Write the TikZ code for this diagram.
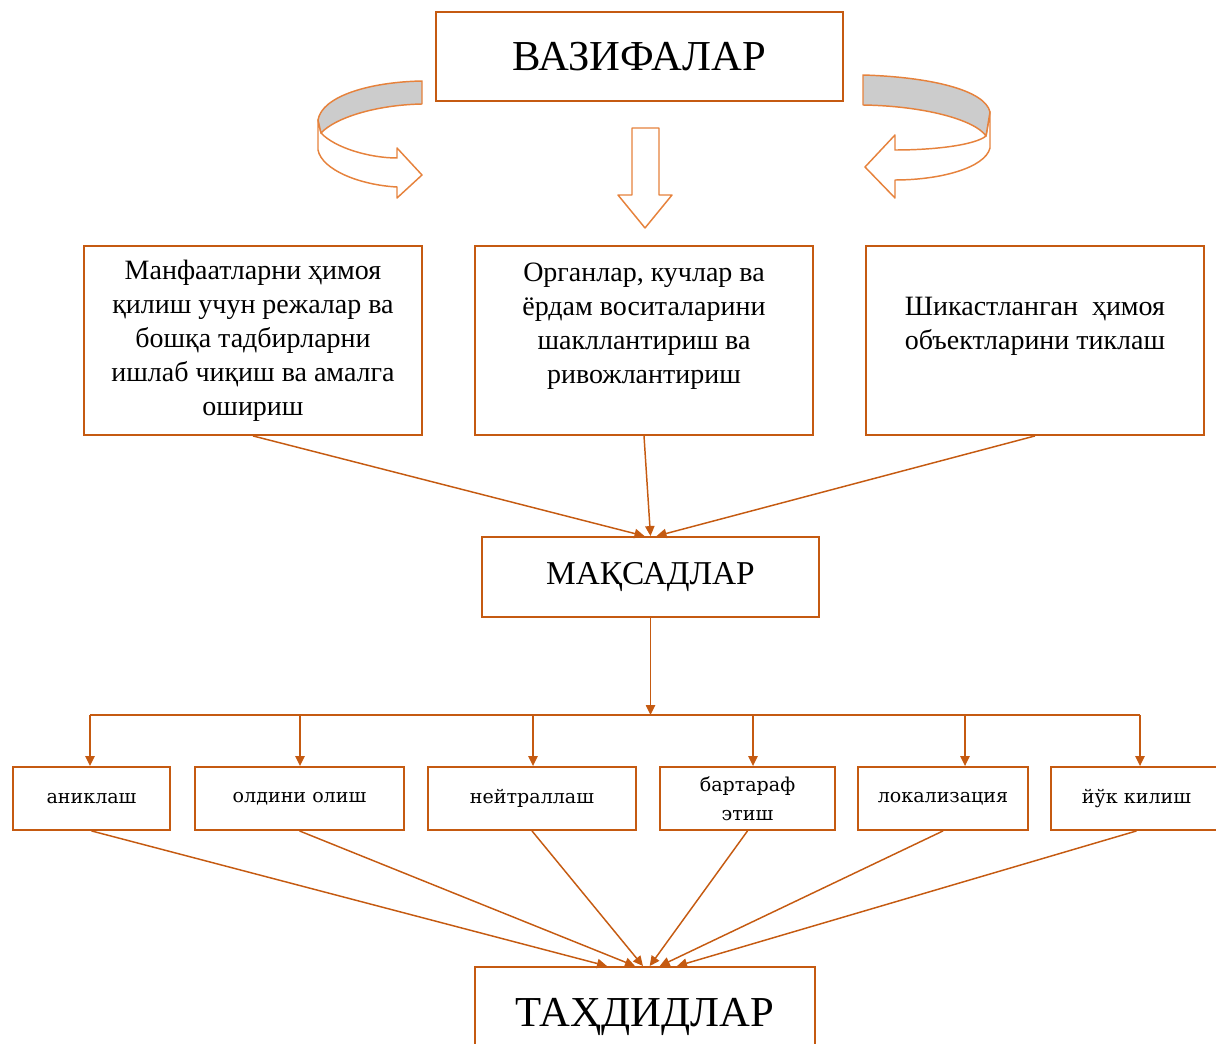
\documentclass[tikz,border=0pt]{standalone}
\usepackage{fontspec}
\setmainfont{Liberation Serif}
\newfontfamily\rowfont{DejaVu Serif}
\usetikzlibrary{arrows.meta}
\definecolor{boxline}{RGB}{197,90,17}
\definecolor{hollowline}{RGB}{230,130,60}
\definecolor{ribbongray}{RGB}{204,204,204}

\begin{document}
\begin{tikzpicture}[x=0.75pt,y=-0.75pt,
    box/.style={draw=boxline,line width=1.4pt,inner sep=0pt,align=center},
    topbox/.style={box,minimum width=253.5pt,minimum height=141.75pt,font=\fontsize{21}{25.5}\selectfont},
    rowbox/.style={box,minimum height=47.25pt,font=\rowfont\fontsize{14.3}{21.75}\selectfont},
    arr/.style={draw=boxline,line width=1.1pt,-{Triangle[length=7.5pt,width=7pt]}},
    hollow/.style={draw=hollowline,line width=1.1pt,line join=round,fill=white}]
  \useasboundingbox (0,0) rectangle (1216,1044);

  % headline
  \node[box,minimum width=305.25pt,minimum height=66.75pt,font=\fontsize{32}{36}\selectfont] (vazifa) at (639.5,56.5) {ВАЗИФАЛАР};

  % three tasks
  \node[topbox] (manfaat) at (253,340.5) {Манфаатларни ҳимоя\\қилиш учун режалар ва\\бошқа тадбирларни\\ишлаб чиқиш ва амалга\\ошириш};
  \node[topbox] (organ) at (644,340.5) {Органлар, кучлар ва\\ёрдам воситаларини\\шакллантириш ва\\ривожлантириш\\~};
  \node[topbox] (tiklash) at (1035,340.5) {Шикастланган\ \ ҳимоя\\объектларини тиклаш\\~};

  \node[box,minimum width=252.75pt,minimum height=60pt,font=\fontsize{25}{28}\selectfont] (maqsad) at (650.5,577) {МАҚСАДЛАР};

  % six measures
  \node[rowbox,minimum width=117.75pt] (aniq) at (91.5,798.5) {аниклаш};
  \node[rowbox,minimum width=156.75pt] (oldini) at (299.5,798.5) {олдини олиш};
  \node[rowbox,minimum width=156pt] (neytral) at (532,798.5) {нейтраллаш};
  \node[rowbox,minimum width=131.25pt] (bartaraf) at (747.5,798.5) {бартараф\\этиш};
  \node[rowbox,minimum width=127.5pt] (lokal) at (943,798.5) {локализация};
  \node[rowbox,minimum width=128.25pt] (yuq) at (1136.5,798.5) {йўк килиш};

  \node[box,minimum width=255pt,minimum height=75pt,font=\fontsize{32}{36}\selectfont] (tahdid) at (645,1017) {ТАҲДИДЛАР};

  % hollow arrows under the headline
  \draw[hollow] (318,120) -- (318,150) .. controls (322,170) and (360,185) .. (397,187)
    -- (397,198) -- (422,175) -- (397,148) -- (397,158) .. controls (370,158) and (335,148) .. (321,133) -- cycle;
  \draw[hollow,fill=ribbongray] (422,81) .. controls (370,82) and (322,96) .. (318,120) -- (321,133)
    .. controls (335,118) and (375,105) .. (422,104) -- cycle;

  \draw[hollow] (632,128) -- (659,128) -- (659,195) -- (672,195) -- (645,228) -- (618,195) -- (632,195) -- cycle;

  \draw[hollow] (990,112) -- (990,148) .. controls (985,168) and (940,180) .. (895,180)
    -- (895,198) -- (865,167) -- (895,135) -- (895,150) .. controls (935,150) and (975,145) .. (986,136) -- cycle;
  \draw[hollow,fill=ribbongray] (863,75) .. controls (930,77) and (985,90) .. (990,112) -- (986,136)
    .. controls (975,120) and (925,106) .. (863,105) -- cycle;

  % connectors
  \draw[arr] (manfaat.south) -- ([xshift=-4.5pt]maqsad.north);
  \draw[arr] (organ.south) -- (maqsad.north);
  \draw[arr] (tiklash.south) -- ([xshift=4.5pt]maqsad.north);

  \coordinate (bus1) at (90,715);
  \coordinate (bus2) at (300,715);
  \coordinate (bus3) at (533,715);
  \coordinate (bus4) at (753,715);
  \coordinate (bus5) at (965,715);
  \coordinate (bus6) at (1140,715);
  \draw[arr] (maqsad.south) -- (maqsad.south |- bus1);
  \draw[draw=boxline,line width=1.1pt] (bus1) -- (bus6);
  \draw[arr] (bus1) -- (bus1 |- aniq.north);
  \draw[arr] (bus2) -- (bus2 |- oldini.north);
  \draw[arr] (bus3) -- (bus3 |- neytral.north);
  \draw[arr] (bus4) -- (bus4 |- bartaraf.north);
  \draw[arr] (bus5) -- (bus5 |- lokal.north);
  \draw[arr] (bus6) -- (bus6 |- yuq.north);

  \draw[arr] (aniq.south) -- ([xshift=-28.5pt]tahdid.north);
  \draw[arr] (oldini.south) -- ([xshift=-7.5pt]tahdid.north);
  \draw[arr] (neytral.south) -- ([xshift=-1.5pt]tahdid.north);
  \draw[arr] (bartaraf.south) -- ([xshift=3.5pt]tahdid.north);
  \draw[arr] (lokal.south) -- ([xshift=11pt]tahdid.north);
  \draw[arr] (yuq.south) -- ([xshift=24pt]tahdid.north);
\end{tikzpicture}
\end{document}
